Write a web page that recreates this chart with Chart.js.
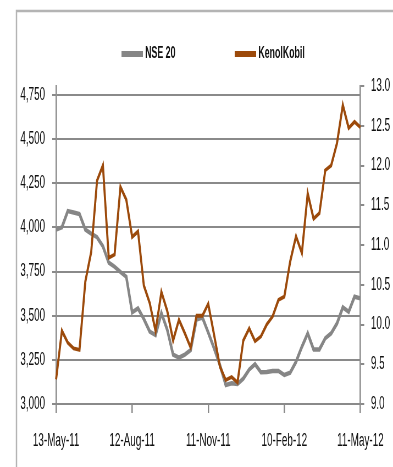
<!DOCTYPE html>
<html>
<head>
<meta charset="utf-8">
<script src="https://cdn.jsdelivr.net/npm/chart.js@4"></script>
<style>
  html, body { margin: 0; padding: 0; background: #ffffff; overflow: hidden; }
</style>
</head>
<body>
<canvas id="c" width="715" height="467" style="display:block;width:393px;height:467px;"></canvas>
<script>
// ---- data ----
const categories = [
  "13-May-11","20-May-11","27-May-11","3-Jun-11","10-Jun-11","17-Jun-11","24-Jun-11",
  "1-Jul-11","8-Jul-11","15-Jul-11","22-Jul-11","29-Jul-11","5-Aug-11","12-Aug-11",
  "19-Aug-11","26-Aug-11","2-Sep-11","9-Sep-11","16-Sep-11","23-Sep-11","30-Sep-11",
  "7-Oct-11","14-Oct-11","21-Oct-11","28-Oct-11","4-Nov-11","11-Nov-11","18-Nov-11",
  "25-Nov-11","2-Dec-11","9-Dec-11","16-Dec-11","23-Dec-11","30-Dec-11","6-Jan-12",
  "13-Jan-12","20-Jan-12","27-Jan-12","3-Feb-12","10-Feb-12","17-Feb-12","24-Feb-12",
  "2-Mar-12","9-Mar-12","16-Mar-12","23-Mar-12","30-Mar-12","6-Apr-12","13-Apr-12",
  "20-Apr-12","27-Apr-12","4-May-12","11-May-12"
];
const shownDateLabels = ["13-May-11","12-Aug-11","11-Nov-11","10-Feb-12","11-May-12"];

const nse20 = [
  3987, 4000, 4092, 4084, 4075, 3987, 3964, 3944, 3893, 3800,
  3777, 3747, 3720, 3519, 3541, 3481, 3410, 3390, 3515, 3420,
  3280, 3262, 3280, 3305, 3478, 3490, 3405, 3315, 3220, 3108,
  3117, 3113, 3144, 3195, 3225, 3180, 3181, 3187, 3187, 3164,
  3177, 3239, 3324, 3400, 3309, 3309, 3372, 3400, 3456, 3547,
  3522, 3607, 3598
];
const kenolKobil = [
  9.31, 9.92, 9.77, 9.70, 9.68, 10.54, 10.91, 11.81, 12.00, 10.84,
  10.88, 11.73, 11.57, 11.10, 11.17, 10.49, 10.27, 9.92, 10.41, 10.17,
  9.80, 10.06, 9.89, 9.71, 10.11, 10.11, 10.26, 9.87, 9.47, 9.30,
  9.34, 9.27, 9.80, 9.95, 9.79, 9.85, 10.00, 10.10, 10.31, 10.35,
  10.79, 11.11, 10.90, 11.65, 11.33, 11.40, 11.94, 12.00, 12.28, 12.76,
  12.47, 12.55, 12.48
];

const leftTickValues = [3000, 3250, 3500, 3750, 4000, 4250, 4500, 4750];
const seriesNames = ["NSE 20", "KenolKobil"];

// ---- styling ----
const GRID = '#8a8a8a';
const TEXT = '#111111';
const FONT = 'Liberation Sans';

const framePlugin = {
  id: 'frame',
  beforeDraw(chart) {
    const ctx = chart.ctx;
    ctx.save();
    ctx.fillStyle = '#ffffff';
    ctx.fillRect(0, 0, chart.width, chart.height);
    ctx.strokeStyle = '#b4b4b4';
    ctx.lineWidth = 2.5;
    ctx.beginPath();
    ctx.moveTo(30, chart.height + 5);
    ctx.lineTo(30, 11);
    ctx.lineTo(chart.width + 5, 11);
    ctx.stroke();
    ctx.restore();
  }
};

const legendPlugin = {
  id: 'manualLegend',
  afterDraw(chart) {
    const ctx = chart.ctx;
    const xs = [221, 427];
    const y = 54;
    ctx.save();
    chart.data.datasets.forEach((d, i) => {
      ctx.fillStyle = d.borderColor;
      ctx.fillRect(xs[i], y - 3, 39, 6);
      ctx.fillStyle = TEXT;
      ctx.font = 'bold 16px "' + FONT + '"';
      ctx.textBaseline = 'middle';
      ctx.textAlign = 'left';
      ctx.fillText(d.label, xs[i] + 43, y);
    });
    ctx.restore();
  }
};

new Chart(document.getElementById('c'), {
  type: 'line',
  data: {
    labels: categories,
    datasets: [
      {
        label: seriesNames[0],
        data: nse20,
        yAxisID: 'y',
        borderColor: '#868686',
        backgroundColor: '#868686',
        borderWidth: 4.5,
        pointRadius: 0,
        tension: 0,
        order: 2
      },
      {
        label: seriesNames[1],
        data: kenolKobil,
        yAxisID: 'y1',
        borderColor: '#9c4a0b',
        backgroundColor: '#9c4a0b',
        borderWidth: 3.8,
        pointRadius: 0,
        tension: 0,
        order: 1
      }
    ]
  },
  options: {
    responsive: false,
    animation: false,
    devicePixelRatio: 1,
    layout: { padding: { top: 86, left: 0, right: 0, bottom: 0 } },
    plugins: {
      legend: { display: false },
      tooltip: { enabled: false },
      title: { display: false }
    },
    scales: {
      x: {
        type: 'category',
        offset: false,
        afterFit(s) { s.height = 63; },
        grid: {
          display: true,
          drawOnChartArea: false,
          drawTicks: true,
          tickLength: 9,
          color: GRID,
          lineWidth: 2.5
        },
        border: { display: true, color: GRID, width: 2 },
        ticks: {
          autoSkip: false,
          maxRotation: 0,
          minRotation: 0,
          padding: 17,
          color: TEXT,
          font: { family: FONT, size: 18 },
          callback(v, i) {
            const l = categories[i];
            return shownDateLabels.includes(l) ? l : null;
          }
        }
      },
      y: {
        position: 'left',
        min: 3000,
        max: 4800,
        afterFit(s) { s.width = 102; },
        afterBuildTicks(s) { s.ticks = leftTickValues.map(v => ({ value: v })); },
        grid: {
          color: GRID,
          lineWidth: 2,
          drawTicks: true,
          tickLength: 7
        },
        border: { display: true, color: GRID, width: 2.5 },
        ticks: {
          padding: 13,
          color: TEXT,
          font: { family: FONT, size: 18 },
          callback(v) { return v.toLocaleString('en-US'); }
        }
      },
      y1: {
        position: 'right',
        min: 9,
        max: 13,
        afterFit(s) { s.width = 56; },
        grid: {
          drawOnChartArea: false,
          drawTicks: true,
          tickLength: 7,
          color: GRID,
          lineWidth: 2
        },
        border: { display: true, color: GRID, width: 2.5 },
        ticks: {
          stepSize: 0.5,
          padding: 12,
          color: TEXT,
          font: { family: FONT, size: 18 },
          callback(v) { return Number(v).toFixed(1); }
        }
      }
    }
  },
  plugins: [framePlugin, legendPlugin]
});
</script>
</body>
</html>
